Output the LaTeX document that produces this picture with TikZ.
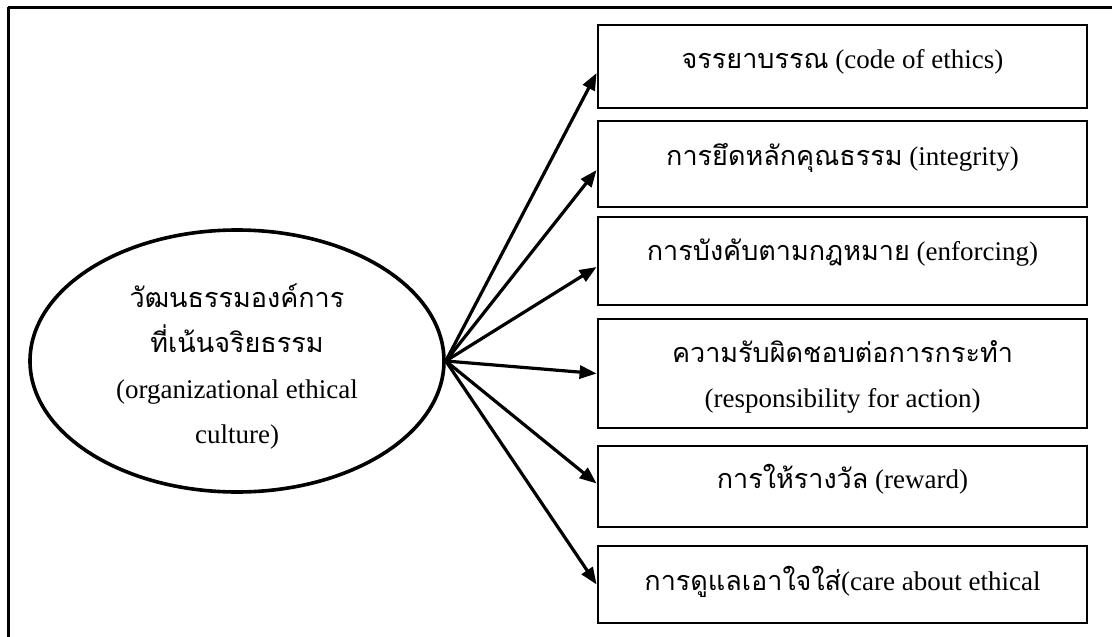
\documentclass[tikz,border=0pt]{standalone}
\usepackage{fontspec}
\setmainfont{Liberation Serif}
\newfontfamily\thai[Script=Thai]{Loma}
\usetikzlibrary{arrows.meta,shapes.geometric}
\begin{document}
\begin{tikzpicture}[x=1pt,y=-1pt,
  every node/.style={font=\fontsize{27}{31}\selectfont},
  frame/.style={line width=3pt},
  itembox/.style={draw,line width=2.8pt,rectangle,minimum width=489pt,inner sep=0pt},
  txt/.style={anchor=base,inner sep=0pt},
  arr/.style={line width=3.2pt,-{Triangle[length=17pt,width=13pt]}}]
\useasboundingbox (0,0) rectangle (1112,637);
\fill[white] (0,0) rectangle (1112,637);

% frame (top and left edges)
\draw[frame] (8,7) -- (1112,7);
\draw[frame] (8,7) -- (8,637);

% central concept
\node[draw,ellipse,line width=3.6pt,minimum width=414pt,minimum height=262pt,inner sep=0pt] (e) at (237,361) {};
\node[txt] (e1) at (237,307) {\thai วัฒนธรรมองค์การ};
\node[txt] (e2) at (237,352) {\thai ที่เน้นจริยธรรม};
\node[txt] (e3) at (237,398) {(organizational ethical};
\node[txt] (e4) at (237,443) {culture)};

% dimension boxes
\node[itembox,minimum height=83pt] (b1) at (842.5,66.5) {};
\node[itembox,minimum height=86pt] (b2) at (842.5,164) {};
\node[itembox,minimum height=88pt] (b3) at (842.5,261) {};
\node[itembox,minimum height=109pt] (b4) at (842.5,373.5) {};
\node[itembox,minimum height=81pt] (b5) at (842.5,486.5) {};
\node[itembox,minimum height=77pt] (b6) at (842.5,584.5) {};

\node[txt] (t1) at (842.5,68) {{\thai จรรยาบรรณ} (code of ethics)};
\node[txt] (t2) at (842.5,165) {{\thai การยึดหลักคุณธรรม} (integrity)};
\node[txt] (t3) at (842.5,260) {{\thai การบังคับตามกฎหมาย} (enforcing)};
\node[txt] (t4a) at (842.5,362) {\thai ความรับผิดชอบต่อการกระทำ};
\node[txt] (t4b) at (842.5,407) {(responsibility for action)};
\node[txt] (t5) at (842.5,488) {{\thai การให้รางวัล} (reward)};
\node[txt] (t6) at (842.5,590) {{\thai การดูแลเอาใจใส่}(care about ethical};

% connectors
\draw[arr] (e.east) -- ([yshift=-6.5pt]b1.west);
\draw[arr] (e.east) -- ([yshift=-6pt]b2.west);
\draw[arr] (e.east) -- ([yshift=-6pt]b3.west);
\draw[arr] (e.east) -- (b4.west);
\draw[arr] (e.east) -- ([yshift=3pt]b5.west);
\draw[arr] (e.east) -- (b6.west);
\end{tikzpicture}
\end{document}
